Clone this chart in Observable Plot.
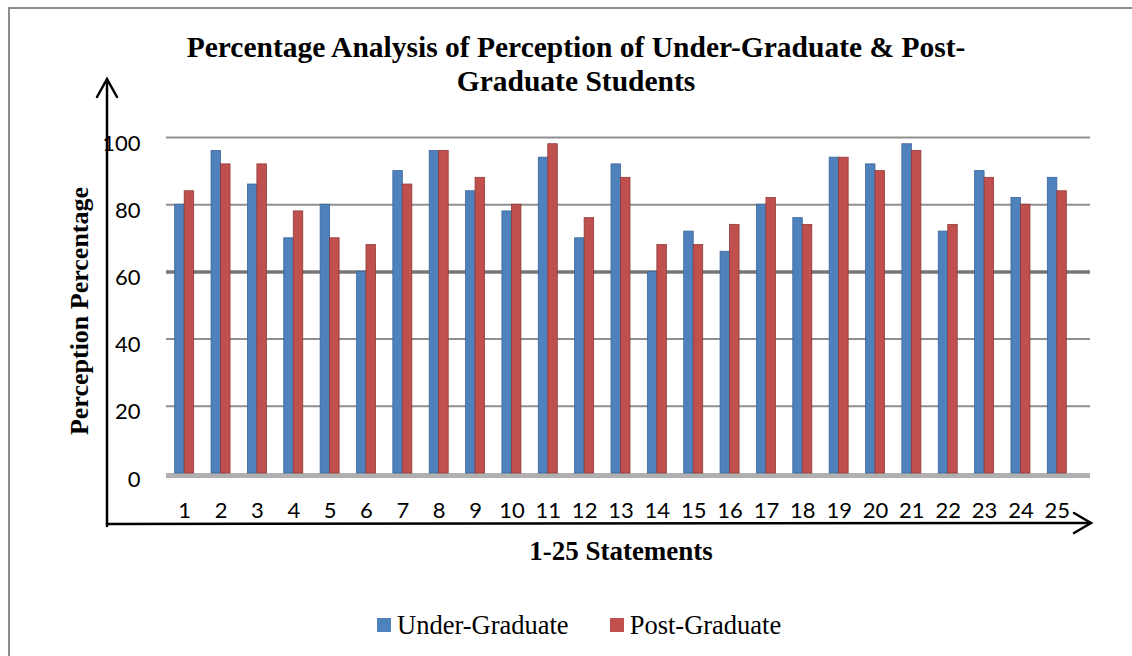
<!DOCTYPE html>
<html>
<head>
<meta charset="utf-8">
<script src="https://cdn.jsdelivr.net/npm/d3@7"></script>
<script src="https://cdn.jsdelivr.net/npm/@observablehq/plot@0.6"></script>
<style>
  html, body { margin: 0; padding: 0; background: #fff; }
  #wrap { position: relative; width: 1132px; height: 656px; overflow: hidden; }
  #frame { position: absolute; left: 8px; top: 7px; width: 1140px; height: 700px; border: 2px solid #8c8c8c; box-sizing: border-box; }
  #title { position: absolute; left: 0; width: 1152px; top: 30px; text-align: center; font-family: "Liberation Serif", "Times New Roman", serif; font-weight: bold; font-size: 29.5px; line-height: 34px; color: #000; }
  #ytitle { position: absolute; left: 80px; top: 311px; transform: translate(-50%, -50%) rotate(-90deg); white-space: nowrap; font-family: "Liberation Serif", serif; font-weight: bold; font-size: 26px; }
  #xtitle { position: absolute; left: 621px; top: 551px; transform: translate(-50%, -50%); white-space: nowrap; font-family: "Liberation Serif", serif; font-weight: bold; font-size: 27px; }
  #legend { position: absolute; left: 377px; top: 608px; font-family: "Liberation Serif", serif; font-size: 26.5px; white-space: nowrap; }
  .item { display: inline-flex; align-items: center; }
  .sw { display: inline-block; width: 14px; height: 14px; margin-right: 6px; }
  #plot { position: absolute; left: 0; top: 0; }
  #arrows { position: absolute; left: 0; top: 0; }
</style>
</head>
<body>
<div id="wrap">
  <div id="frame"></div>
  <div id="title">Percentage Analysis of Perception of Under-Graduate &amp; Post-<br>Graduate Students</div>
  <div id="plot"></div>
  <svg id="arrows" width="1132" height="656">
    <g stroke="#000" stroke-width="2.5" fill="none" stroke-linecap="round">
      <path d="M107,526 L107,80"/>
      <path d="M97,97 L107,79 L117,97"/>
      <path d="M107,524 L1090,523"/>
      <path d="M1074,513 L1091,523 L1074,533"/>
    </g>
  </svg>
  <div id="ytitle">Perception Percentage</div>
  <div id="xtitle">1-25 Statements</div>
  <div id="legend"></div>
</div>
<script>
const statements = d3.range(1, 26).map(String);
const underGraduate = [80, 96, 86, 70, 80, 60, 90, 96, 84, 78, 94, 70, 92, 60, 72, 66, 80, 76, 94, 92, 98, 72, 90, 82, 88];
const postGraduate  = [84, 92, 92, 78, 70, 68, 86, 96, 88, 80, 98, 76, 88, 68, 68, 74, 82, 74, 94, 90, 96, 74, 88, 80, 84];
const seriesNames = ["Under-Graduate", "Post-Graduate"];
const seriesColors = ["#4F81BD", "#C0504D"];
const yTicks = [0, 20, 40, 60, 80, 100];

const ug = statements.map((s, i) => ({statement: s, value: underGraduate[i]}));
const pg = statements.map((s, i) => ({statement: s, value: postGraduate[i]}));

const step = (1075 - 166) / 25;
const half = step / 2;
const bw = 9.5;

const chart = Plot.plot({
  width: 1132,
  height: 656,
  marginTop: 137,
  marginBottom: 183,
  marginLeft: 166,
  marginRight: 42,
  x: {type: "band", domain: statements, range: [166, 1075], padding: 0, round: false, label: null},
  y: {domain: [0, 100], label: null, ticks: yTicks},
  style: {fontFamily: "Lato, 'Open Sans', sans-serif", fontSize: "22px", color: "#000", background: "transparent", overflow: "visible"},
  marks: [
    Plot.ruleY(yTicks.filter(t => t !== 60 && t !== 0), {stroke: "#8f8f8f", strokeWidth: 2, strokeOpacity: 1}),
    Plot.ruleY([60], {stroke: "#777", strokeWidth: 3.5, strokeOpacity: 1}),
    Plot.ruleY([0], {stroke: "#b0b0b0", strokeWidth: 5, strokeOpacity: 1, dy: 2}),
    Plot.barY(ug, {x: "statement", y: "value", fill: seriesColors[0], stroke: "#3a6699", strokeWidth: 0.8, insetLeft: half - bw, insetRight: half}),
    Plot.barY(pg, {x: "statement", y: "value", fill: seriesColors[1], stroke: "#8f3a38", strokeWidth: 0.8, insetLeft: half, insetRight: half - bw}),
    Plot.axisX({tickSize: 0, tickPadding: 29, fontSize: 22, label: null}),
    Plot.axisY({ticks: yTicks, tickSize: 0, tickPadding: 26, fontSize: 22, dy: 6, label: null})
  ]
});
document.getElementById("plot").appendChild(chart);

const legend = document.getElementById("legend");
seriesNames.forEach((n, i) => {
  const item = document.createElement("span");
  item.className = "item";
  if (i > 0) item.style.marginLeft = "41px";
  const sw = document.createElement("span");
  sw.className = "sw";
  sw.style.background = seriesColors[i];
  item.appendChild(sw);
  item.appendChild(document.createTextNode(n));
  legend.appendChild(item);
});
</script>
</body>
</html>
